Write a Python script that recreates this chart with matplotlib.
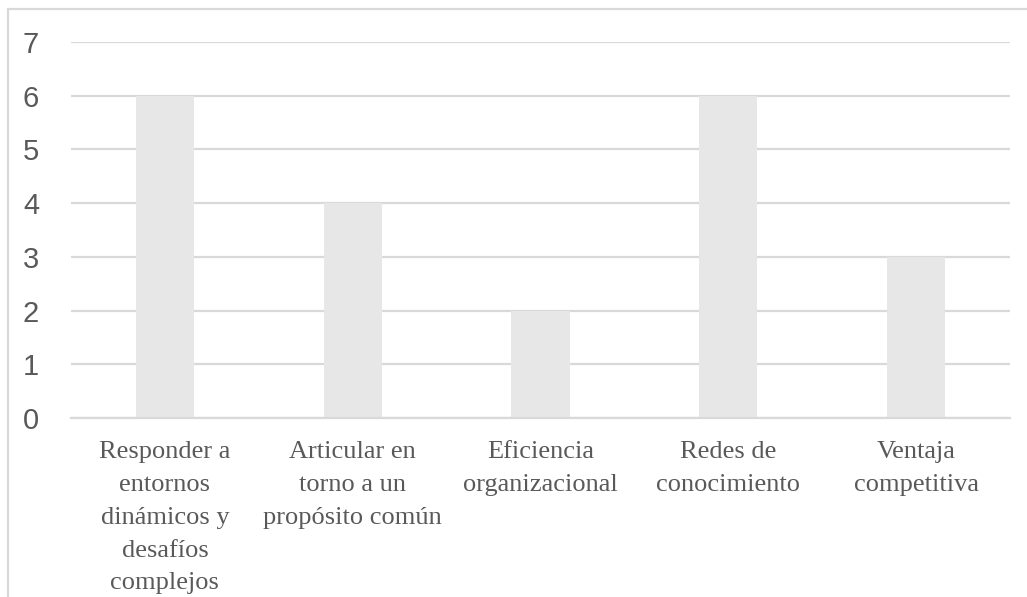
import matplotlib
matplotlib.use("Agg")
import matplotlib.pyplot as plt
from matplotlib.patches import Rectangle

categories = [
    "Responder a\nentornos\ndinámicos y\ndesafíos\ncomplejos",
    "Articular en\ntorno a un\npropósito común",
    "Eficiencia\norganizacional",
    "Redes de\nconocimiento",
    "Ventaja\ncompetitiva",
]
values = [6, 4, 2, 6, 3]
yticks = [0, 1, 2, 3, 4, 5, 6, 7]

W, H = 1027, 597
fig = plt.figure(figsize=(W / 100, H / 100), dpi=100)
ax = fig.add_axes([71 / W, 1 - 418 / H, (1010 - 71) / W, (418 - 42) / H])

x = list(range(len(categories)))
ax.bar(x, values, width=0.31, color="#E7E7E7", zorder=2)

ax.set_xlim(-0.5, len(categories) - 0.5)
ax.set_ylim(0, 7)
ax.set_yticks(yticks)
ax.set_yticklabels([str(t) for t in yticks], family="Liberation Sans",
                   fontsize=21, color="#595959")
ax.set_xticks(x)
ax.set_xticklabels(categories, family="Liberation Serif", fontsize=19,
                   color="#595959", linespacing=1.64, va="top")
ax.tick_params(axis="both", length=0)
ax.tick_params(axis="y", pad=23)
ax.tick_params(axis="x", pad=16.5)

ax.grid(axis="y", color="#D9D9D9", linewidth=1.6, zorder=0)
ax.set_axisbelow(True)
for side in ["top", "right", "left"]:
    ax.spines[side].set_visible(False)
ax.spines["bottom"].set_color("#D9D9D9")
ax.spines["bottom"].set_linewidth(1.6)

# Chart frame: only its top and left edges fall inside the image
fig.patches.append(Rectangle((7.5 / W, -0.1), 1.2, 1.1 - 8.5 / H,
                             transform=fig.transFigure, fill=False,
                             edgecolor="#D9D9D9", linewidth=1.6))

fig.savefig("out.png", dpi=100)
